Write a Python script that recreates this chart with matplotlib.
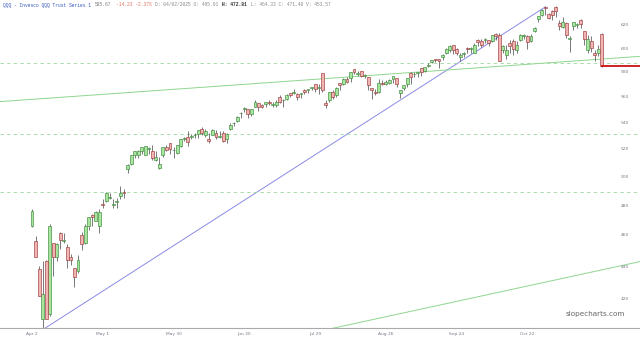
import numpy as np
import matplotlib
matplotlib.use("Agg")
import matplotlib.pyplot as plt
from matplotlib.ticker import NullLocator, FixedLocator, FixedFormatter

# daily candles, QQQ Apr 2 - Nov 20 2025
opens = [466, 456, 438, 408, 443, 411, 455, 446, 461, 456, 452, 446, 439, 437, 460, 455, 466, 473, 469, 466,
         481, 483, 485, 480, 482, 486, 489, 505, 509, 515, 515, 518, 515, 520, 518, 512, 506, 515, 521, 524, 519,
         517, 522, 527, 529, 529, 530, 531, 535, 530, 527, 530, 532, 529, 532, 527, 535, 539, 541, 547, 550,
         550, 546, 552, 555, 553, 554, 556, 553, 553, 560, 557, 558, 563, 563, 562, 562, 565, 565, 567, 570, 567, 579,
         555, 557, 564, 561, 571, 570, 574, 575, 582, 578, 581, 577, 576, 567, 564, 564, 571, 570, 571, 574, 575,
         563, 567, 570, 579, 578, 579, 583, 581, 585, 588, 591, 591, 592, 596, 598, 603, 599, 592, 595, 600, 599,
         596, 607, 606, 607, 607, 606, 612, 611, 598, 594, 604, 606, 598, 607, 610, 610, 606, 615, 625, 629, 636, 630, 632,
         636, 622, 618, 622, 608, 619, 620, 624, 615, 598, 606, 596, 596, 612]
highs = [477, 459, 440, 443, 444, 467, 455, 455, 462, 461, 454, 448, 439, 447, 462, 467, 472, 474, 476, 477,
         484, 489, 488, 484, 485, 493, 491, 509, 515, 518, 519, 521, 522, 521, 523, 518, 514, 521, 523, 524, 521,
         523, 527, 529, 533, 531, 532, 534, 536, 535, 532, 535, 534, 533, 533, 532, 539, 540, 545, 548, 552,
         550, 550, 557, 555, 554, 556, 557, 556, 557, 561, 558, 562, 563, 566, 563, 563, 566, 566, 568, 570, 570, 579,
         557, 564, 565, 568, 571, 575, 576, 580, 582, 581, 581, 578, 576, 567, 566, 574, 573, 573, 574, 577, 575,
         565, 569, 575, 580, 580, 580, 583, 584, 587, 590, 591, 591, 595, 600, 603, 603, 600, 596, 597, 601, 601,
         604, 608, 608, 609, 607, 611, 613, 613, 603, 603, 607, 608, 606, 612, 612, 611, 612, 618, 628, 634, 637, 631, 633,
         637, 624, 627, 623, 610, 623, 622, 625, 615, 611, 610, 598, 603, 613]
lows = [465, 446, 422, 402, 408, 410, 434, 443, 451, 455, 439, 441, 427, 436, 450, 454, 463, 466, 469, 461,
        478, 482, 484, 478, 478, 484, 485, 502, 508, 513, 513, 516, 515, 516, 512, 511, 505, 514, 518, 516, 513,
        516, 521, 526, 522, 527, 528, 528, 530, 529, 524, 530, 527, 528, 525, 524, 534, 537, 540, 543, 548,
        543, 545, 552, 549, 551, 552, 553, 552, 552, 555, 552, 557, 560, 562, 557, 559, 562, 563, 565, 564, 562, 564,
        551, 556, 558, 560, 565, 569, 571, 572, 578, 577, 576, 575, 565, 558, 561, 563, 569, 569, 570, 571, 568,
        559, 565, 568, 570, 576, 576, 577, 580, 584, 587, 588, 583, 590, 595, 597, 595, 594, 589, 592, 596, 596,
        596, 602, 601, 604, 602, 605, 607, 589, 596, 591, 596, 594, 596, 606, 608, 599, 605, 614, 623, 628, 629, 625, 624,
        627, 616, 617, 609, 597, 616, 617, 617, 603, 596, 597, 589, 593, 584]
closes = [476, 446, 422, 423, 408, 466, 446, 454, 457, 457, 444, 444, 433, 444, 454, 466, 472, 472, 475, 475,
          480, 488, 485, 481, 483, 488, 488, 508, 515, 518, 518, 521, 522, 520, 513, 514, 509, 521, 519, 520, 519,
          523, 527, 528, 525, 529, 530, 534, 532, 533, 526, 534, 529, 529, 526, 531, 538, 539, 544, 547, 551,
          546, 550, 556, 552, 552, 556, 555, 554, 556, 556, 557, 561, 561, 563, 560, 563, 564, 566, 568, 566, 567, 565,
          553, 564, 560, 567, 569, 574, 572, 580, 580, 579, 577, 577, 569, 565, 563, 571, 570, 572, 573, 577, 570,
          565, 569, 575, 576, 578, 580, 580, 584, 586, 590, 590, 589, 594, 599, 602, 598, 596, 594, 596, 599, 600,
          603, 605, 603, 607, 604, 611, 610, 589, 602, 598, 602, 599, 603, 611, 611, 605, 610, 617, 628, 633, 635, 626, 629,
          632, 619, 623, 611, 609, 623, 621, 621, 608, 608, 600, 594, 599, 585]

# date labels every 20 bars
date_labels = ["Apr 2", "May 1", "May 30", "Jun 30", "Jul 29", "Aug 26", "Sep 24", "Oct 22"]
label_idx = [0, 20, 40, 60, 80, 100, 120, 140]

price_ticks = [420, 440, 460, 480, 500, 520, 540, 560, 580, 600, 620]

# drawn lines (index, price)
up_trend = ([3, 145], [402, 636])
upper_trend = ([-9, 172], [556, 593])
lower_trend = ([78.5, 172], [400, 443])
dashed_levels = [587, 531, 489]
last_close = closes[-1]

n = len(closes)
x = np.arange(n)
o, h, l, c = map(np.array, (opens, highs, lows, closes))

fig = plt.figure(figsize=(6.4, 3.43), dpi=100)
ax = fig.add_axes([0, 15 / 343, 1, 328 / 343])
ax.set_yscale('log')

up = c >= o
ax.vlines(x, l, h, color='#444444', lw=0.5, zorder=2)
body_lo = np.minimum(o, c)
body_hi = np.maximum(o, c)
body_hi = np.where(body_hi - body_lo < 0.4, body_lo + 0.4, body_hi)
ax.bar(x[up], body_hi[up] - body_lo[up], bottom=body_lo[up], width=0.82,
       color='#a8e6a0', edgecolor='#3d8a3d', linewidth=0.45, zorder=3)
ax.bar(x[~up], body_hi[~up] - body_lo[~up], bottom=body_lo[~up], width=0.82,
       color='#f2b3b3', edgecolor='#9b3c3c', linewidth=0.45, zorder=3)

ax.plot(*up_trend, color='#8a8ae6', lw=0.7, zorder=1)
ax.plot(*upper_trend, color='#8fd68f', lw=0.7, zorder=1)
ax.plot(*lower_trend, color='#8fd68f', lw=0.7, zorder=1)
for lvl in dashed_levels:
    ax.axhline(lvl, color='#9ad89a', lw=0.6, ls=(0, (4, 4)), zorder=1)
ax.plot([n - 1, 172], [last_close, last_close], color='#cc1111', lw=1.3, zorder=4)

ax.set_xlim(-9.04, 171.8)
ax.set_ylim(403.0, 642.4)

ax.yaxis.set_major_locator(FixedLocator(price_ticks))
ax.yaxis.set_major_formatter(FixedFormatter([str(p) for p in price_ticks]))
ax.yaxis.set_minor_locator(NullLocator())
ax.yaxis.set_ticks_position('right')
ax.tick_params(axis='y', length=0, pad=-14, labelsize=3.2, labelcolor='#7a7a8a')

ax.xaxis.set_major_locator(FixedLocator(label_idx))
ax.xaxis.set_major_formatter(FixedFormatter(date_labels))
ax.xaxis.set_minor_locator(NullLocator())
ax.tick_params(axis='x', length=0, pad=3, labelsize=3.2, labelcolor='#7a7a8a')

for s in ['top', 'left', 'right']:
    ax.spines[s].set_visible(False)
ax.spines['bottom'].set_color('#aaaaaa')
ax.spines['bottom'].set_linewidth(0.8)

# header line, pieces laid out one after another
mono = 'Liberation Mono'
fs = 3.3
header = [
    ("QQQ - Invesco QQQ Trust Series 1", '#3355bb', 'normal'),
    ("585.67", '#777777', 'normal'),
    ("-14.23 -2.37%", '#e07060', 'normal'),
    ("D: 04/02/2025 O: 465.91", '#888888', 'normal'),
    ("H: 472.81", '#333333', 'bold'),
    ("L: 464.33 C: 471.48 V: 453.57", '#888888', 'normal'),
]
renderer = fig.canvas.get_renderer()
xpos = 3
for txt, col, wt in header:
    t = fig.text(xpos / 640, 1 - 5 / 343, txt, fontsize=fs, family=mono, color=col,
                 va='center', weight=wt)
    bb = t.get_window_extent(renderer)
    xpos = bb.x1 + 4

fig.text(625 / 640, 1 - 314 / 343, "slopecharts.com", fontsize=5.2, color='#666666',
         ha='right', va='center')

fig.savefig('out.png', dpi=100)
